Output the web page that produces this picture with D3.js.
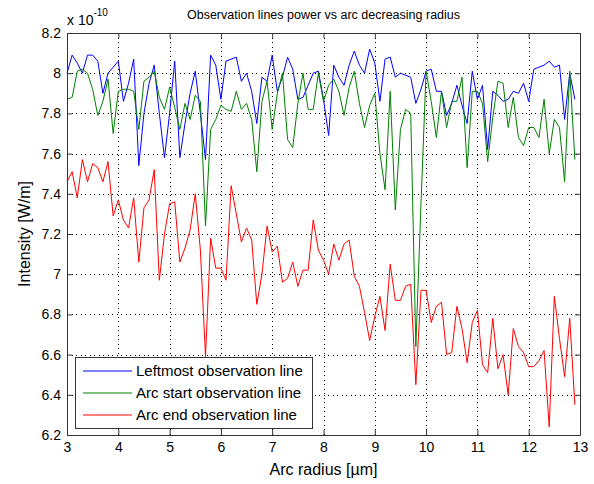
<!DOCTYPE html>
<html>
<head>
<meta charset="utf-8">
<script src="https://cdn.jsdelivr.net/npm/d3@7"></script>
<style>
body { margin: 0; background: #fff; }
svg text { font-family: "Liberation Sans", Arial, Helvetica, sans-serif; fill: #000; }
</style>
</head>
<body>
<svg id="chart" width="594" height="484"></svg>
<script>

// arc radius in um (x axis)
var radius = [3.0,3.1,3.2,3.3,3.4,3.5,3.6,3.7,3.8,3.9,
  4.0,4.1,4.2,4.3,4.4,4.5,4.6,4.7,4.8,4.9,
  5.0,5.1,5.2,5.3,5.4,5.5,5.6,5.7,5.8,5.9,
  6.0,6.1,6.2,6.3,6.4,6.5,6.6,6.7,6.8,6.9,
  7.0,7.1,7.2,7.3,7.4,7.5,7.6,7.7,7.8,7.9,
  8.0,8.1,8.2,8.3,8.4,8.5,8.6,8.7,8.8,8.9,
  9.0,9.1,9.2,9.3,9.4,9.5,9.6,9.7,9.8,9.9,
  10.0,10.1,10.2,10.3,10.4,10.5,10.6,10.7,10.8,10.9,
  11.0,11.1,11.2,11.3,11.4,11.5,11.6,11.7,11.8,11.9,
  12.0,12.1,12.2,12.3,12.4,12.5,12.6,12.7,12.8,12.9];

// intensities, in units of 1e-10 W/m
var leftmost = [8.00,8.09,8.05,8.00,8.09,8.09,8.06,7.90,8.00,8.03,
  8.06,7.86,7.95,8.07,7.54,7.80,7.95,8.04,7.80,7.58,
  7.80,8.06,7.58,7.75,7.90,8.01,7.80,7.57,8.09,8.04,
  7.87,8.06,8.07,8.08,7.96,8.00,7.91,7.75,7.98,7.96,
  8.09,7.91,7.98,8.08,8.02,7.87,7.88,7.94,8.00,8.01,
  7.87,7.69,8.04,7.98,7.94,8.04,8.11,8.04,8.00,8.12,
  8.05,7.86,8.07,8.08,7.98,8.00,7.99,7.98,7.85,7.92,
  8.01,8.02,7.91,7.91,7.79,7.85,7.94,7.84,7.75,8.01,
  7.87,7.94,7.62,7.91,7.89,7.86,7.87,7.91,7.90,7.95,
  7.86,8.02,8.03,8.04,8.06,8.03,8.04,7.77,8.00,7.87];

var arcStart = [7.87,7.88,8.01,8.02,8.00,7.92,7.79,7.86,7.97,7.70,
  7.91,7.92,7.92,7.91,7.72,7.96,7.98,8.01,7.88,7.82,
  7.93,7.83,7.72,7.85,7.77,7.89,7.86,7.24,7.72,7.77,
  7.84,7.82,7.81,7.91,7.82,7.85,7.77,7.51,7.86,7.96,
  7.72,7.90,8.00,7.67,7.63,7.85,8.00,7.82,7.82,8.00,
  7.86,7.94,7.97,7.91,7.79,7.93,8.01,7.85,7.73,7.84,
  7.90,7.60,7.42,7.91,7.32,7.72,7.82,7.80,6.64,7.35,
  8.01,7.86,7.68,7.91,7.73,7.86,7.86,7.98,7.53,7.91,
  7.91,7.85,7.56,7.78,7.96,7.95,7.73,7.88,7.68,7.64,
  7.73,7.73,7.68,7.87,7.60,7.77,7.73,7.46,8.01,7.57];

var arcEnd = [7.46,7.51,7.38,7.57,7.46,7.55,7.53,7.46,7.56,7.29,
  7.37,7.27,7.23,7.38,7.06,7.33,7.37,7.52,6.97,7.20,
  7.35,7.36,7.06,7.13,7.22,7.40,7.12,6.59,7.18,7.03,
  7.03,6.97,7.44,7.30,7.16,7.23,7.17,6.85,7.00,7.24,
  7.11,7.14,6.96,6.98,7.06,6.94,7.02,7.02,7.27,7.12,
  7.07,7.00,7.15,7.07,7.15,7.17,6.99,6.94,6.81,6.67,
  6.79,6.89,6.72,7.05,6.87,6.87,6.94,6.95,6.45,6.92,
  6.92,6.76,6.84,6.86,6.60,6.61,6.84,6.73,6.56,6.76,
  6.82,6.55,6.51,6.78,6.53,6.60,6.40,6.73,6.64,6.61,
  6.54,6.54,6.57,6.62,6.24,6.89,6.68,6.49,6.78,6.35];

var seriesNames = ["Leftmost observation line", "Arc start observation line", "Arc end observation line"];
var seriesColors = ["#0000ff", "#008000", "#ff0000"];
var xTicks = [3,4,5,6,7,8,9,10,11,12,13];
var yTicks = [6.2,6.4,6.6,6.8,7,7.2,7.4,7.6,7.8,8,8.2];

var svg = d3.select("#chart");
// plot box (note: "top" is reserved on window, so prefix these)
var pLeft = 67, pRight = 580, pTop = 33, pBottom = 435;

var x = d3.scaleLinear().domain([3, 13]).range([pLeft, pRight]);
var y = d3.scaleLinear().domain([6.2, 8.2]).range([pBottom, pTop]);

// dotted grid
var grid = svg.append("g").attr("stroke", "#000").attr("stroke-width", 1)
  .attr("stroke-dasharray", "1,3.5").attr("shape-rendering", "crispEdges");
grid.selectAll(".gx").data(xTicks.slice(1, -1)).enter().append("line")
  .attr("x1", d => Math.round(x(d)) + 0.5).attr("x2", d => Math.round(x(d)) + 0.5)
  .attr("y1", pTop).attr("y2", pBottom);
grid.selectAll(".gy").data(yTicks.slice(1, -1)).enter().append("line")
  .attr("y1", d => Math.round(y(d)) + 0.5).attr("y2", d => Math.round(y(d)) + 0.5)
  .attr("x1", pLeft).attr("x2", pRight);

// the three lines, drawn in legend order
var line = d3.line().x((d, i) => x(radius[i])).y(d => y(d));
[leftmost, arcStart, arcEnd].forEach(function(vals, k) {
  svg.append("path").datum(vals)
    .attr("fill", "none")
    .attr("stroke", seriesColors[k])
    .attr("stroke-width", 1)
    .attr("d", line);
});

// axes, ticks pointing inward on all four sides
function styleAxis(g) {
  g.selectAll("path, line").attr("stroke", "#333");
  g.selectAll("text").attr("fill", "#000").attr("font-size", "14px")
    .attr("font-family", "Liberation Sans, Arial, sans-serif");
}
svg.append("g").attr("transform", "translate(0," + pBottom + ")")
  .call(d3.axisBottom(x).tickValues(xTicks).tickFormat(d3.format("d"))
    .tickSizeInner(-5).tickSizeOuter(0).tickPadding(7))
  .call(styleAxis);
svg.append("g").attr("transform", "translate(" + pLeft + ",0)")
  .call(d3.axisLeft(y).tickValues(yTicks).tickFormat(d => String(+d.toFixed(1)))
    .tickSizeInner(-5).tickSizeOuter(0).tickPadding(6))
  .call(styleAxis);
svg.append("g").attr("transform", "translate(0," + pTop + ")")
  .call(d3.axisTop(x).tickValues(xTicks).tickFormat("").tickSizeInner(-5).tickSizeOuter(0))
  .call(styleAxis);
svg.append("g").attr("transform", "translate(" + pRight + ",0)")
  .call(d3.axisRight(y).tickValues(yTicks).tickFormat("").tickSizeInner(-5).tickSizeOuter(0))
  .call(styleAxis);

// exponent marker
var ex = svg.append("text").attr("x", 67).attr("y", 25).attr("font-size", "14px");
ex.append("tspan").text("x 10");
ex.append("tspan").attr("dy", -9).attr("font-size", "10px").text("-10");

// titles
svg.append("text").attr("x", (pLeft + pRight) / 2).attr("y", 19)
  .attr("text-anchor", "middle").attr("font-size", "12.5px")
  .text("Observation lines power vs arc decreasing radius");
svg.append("text").attr("x", (pLeft + pRight) / 2).attr("y", 475)
  .attr("text-anchor", "middle").attr("font-size", "16px")
  .text("Arc radius [\u00b5m]");
svg.append("text").attr("transform", "translate(30," + ((pTop + pBottom) / 2) + ") rotate(-90)")
  .attr("text-anchor", "middle").attr("font-size", "16px")
  .text("Intensity [W/m]");

// legend
var lg = svg.append("g");
lg.append("rect").attr("x", 75.5).attr("y", 357.5).attr("width", 237).attr("height", 71)
  .attr("fill", "#fff").attr("stroke", "#333");
seriesNames.forEach(function(name, k) {
  var ly = 371 + k * 22;
  lg.append("line").attr("x1", 83).attr("x2", 132).attr("y1", ly).attr("y2", ly)
    .attr("stroke", seriesColors[k]).attr("stroke-width", 1);
  lg.append("text").attr("x", 136).attr("y", ly + 5).attr("font-size", "15px").text(name);
});

</script>
</body>
</html>
